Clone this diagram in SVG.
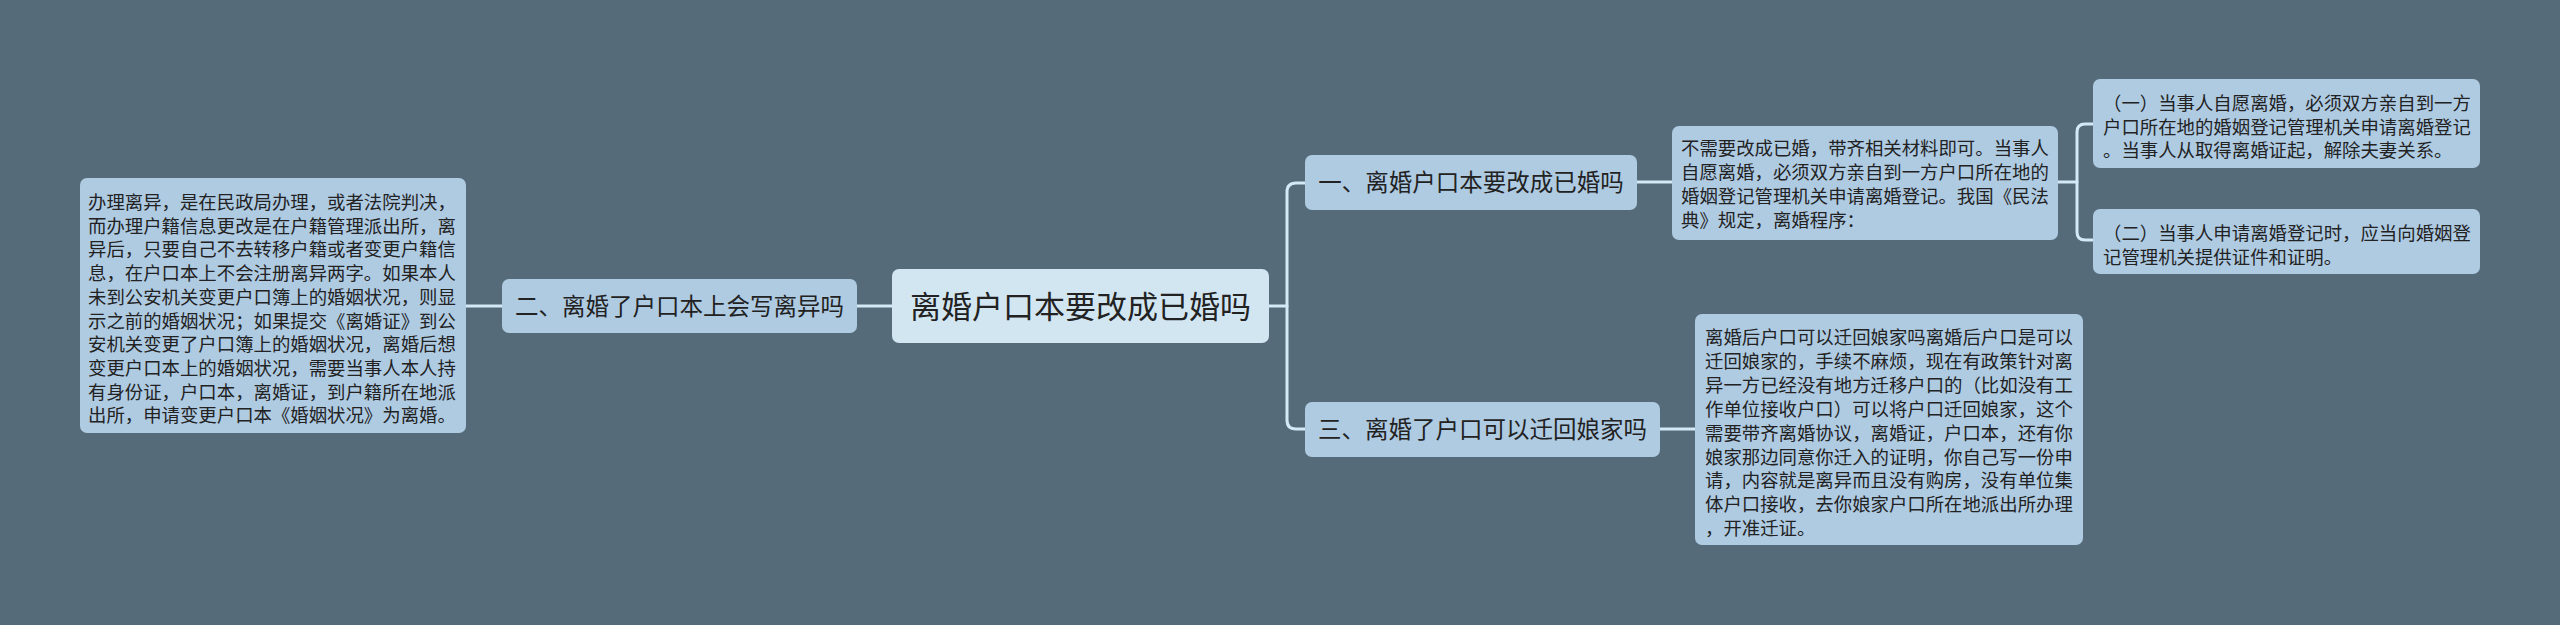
<svg xmlns="http://www.w3.org/2000/svg" width="2560" height="625" viewBox="0 0 2560 625">
<style>
.bg{fill:#566b79}
.box{fill:#afcbe2}
.root{fill:#d2e6f2}
.t{font-family:"Noto Sans CJK SC","Noto Sans",sans-serif;fill:#222}
.s{font-size:18.4px}
.m{font-size:23.5px}
.l{font-size:31px}
.c{fill:none;stroke:#d3eaf6;stroke-width:3;stroke-linecap:round}
</style>
<rect class="bg" x="0" y="0" width="2560" height="625"/>
<g id="connectors">
<path class="c" d="M466 306 H502"/>
<path class="c" d="M857 306 H892"/>
<path class="c" d="M1269 306 H1287"/>
<path class="c" d="M1305 183 H1296 Q1287 183 1287 192 V420 Q1287 429 1296 429 H1305"/>
<path class="c" d="M1637 182 H1672"/>
<path class="c" d="M1660 429 H1695"/>
<path class="c" d="M2058 182 H2077"/>
<path class="c" d="M2093 124 H2085 Q2077 124 2077 132 V232 Q2077 240 2085 240 H2093"/>
</g>
<g id="root">
<rect class="root" x="892" y="269" width="377" height="74" rx="7"/>
<text class="t l" x="1080.5" y="318" text-anchor="middle">离婚户口本要改成已婚吗</text>
</g>
<g id="n2">
<rect class="box" x="502" y="279" width="355" height="54" rx="7"/>
<text class="t m" x="679.5" y="315" text-anchor="middle">二、离婚了户口本上会写离异吗</text>
</g>
<g id="n2a">
<rect class="box" x="80" y="178" width="386" height="255" rx="7"/>
<text class="t s" x="88" y="209">办理离异，是在民政局办理，或者法院判决，</text>
<text class="t s" x="88" y="232.7">而办理户籍信息更改是在户籍管理派出所，离</text>
<text class="t s" x="88" y="256.4">异后，只要自己不去转移户籍或者变更户籍信</text>
<text class="t s" x="88" y="280.1">息，在户口本上不会注册离异两字。如果本人</text>
<text class="t s" x="88" y="303.8">未到公安机关变更户口簿上的婚姻状况，则显</text>
<text class="t s" x="88" y="327.5">示之前的婚姻状况；如果提交《离婚证》到公</text>
<text class="t s" x="88" y="351.2">安机关变更了户口簿上的婚姻状况，离婚后想</text>
<text class="t s" x="88" y="374.9">变更户口本上的婚姻状况，需要当事人本人持</text>
<text class="t s" x="88" y="398.6">有身份证，户口本，离婚证，到户籍所在地派</text>
<text class="t s" x="88" y="422.3">出所，申请变更户口本《婚姻状况》为离婚。</text>
</g>
<g id="n1">
<rect class="box" x="1305" y="155" width="332" height="55" rx="7"/>
<text class="t m" x="1471" y="191" text-anchor="middle">一、离婚户口本要改成已婚吗</text>
</g>
<g id="n1a">
<rect class="box" x="1672" y="126" width="386" height="114" rx="7"/>
<text class="t s" x="1681" y="155">不需要改成已婚，带齐相关材料即可。当事人</text>
<text class="t s" x="1681" y="179">自愿离婚，必须双方亲自到一方户口所在地的</text>
<text class="t s" x="1681" y="203">婚姻登记管理机关申请离婚登记。我国《民法</text>
<text class="t s" x="1681" y="227">典》规定，离婚程序：</text>
</g>
<g id="n1a1">
<rect class="box" x="2093" y="79" width="387" height="89" rx="7"/>
<text class="t s" x="2103" y="110">（一）当事人自愿离婚，必须双方亲自到一方</text>
<text class="t s" x="2103" y="134">户口所在地的婚姻登记管理机关申请离婚登记</text>
<text class="t s" x="2103" y="157">。当事人从取得离婚证起，解除夫妻关系。</text>
</g>
<g id="n1a2">
<rect class="box" x="2093" y="209" width="387" height="65" rx="7"/>
<text class="t s" x="2103" y="240">（二）当事人申请离婚登记时，应当向婚姻登</text>
<text class="t s" x="2103" y="264">记管理机关提供证件和证明。</text>
</g>
<g id="n3">
<rect class="box" x="1305" y="402" width="355" height="55" rx="7"/>
<text class="t m" x="1482.5" y="438" text-anchor="middle">三、离婚了户口可以迁回娘家吗</text>
</g>
<g id="n3a">
<rect class="box" x="1695" y="314" width="388" height="231" rx="7"/>
<text class="t s" x="1705" y="344">离婚后户口可以迁回娘家吗离婚后户口是可以</text>
<text class="t s" x="1705" y="367.9">迁回娘家的，手续不麻烦，现在有政策针对离</text>
<text class="t s" x="1705" y="391.8">异一方已经没有地方迁移户口的（比如没有工</text>
<text class="t s" x="1705" y="415.7">作单位接收户口）可以将户口迁回娘家，这个</text>
<text class="t s" x="1705" y="439.6">需要带齐离婚协议，离婚证，户口本，还有你</text>
<text class="t s" x="1705" y="463.5">娘家那边同意你迁入的证明，你自己写一份申</text>
<text class="t s" x="1705" y="487.4">请，内容就是离异而且没有购房，没有单位集</text>
<text class="t s" x="1705" y="511.3">体户口接收，去你娘家户口所在地派出所办理</text>
<text class="t s" x="1705" y="535.2">，开准迁证。</text>
</g>
</svg>
